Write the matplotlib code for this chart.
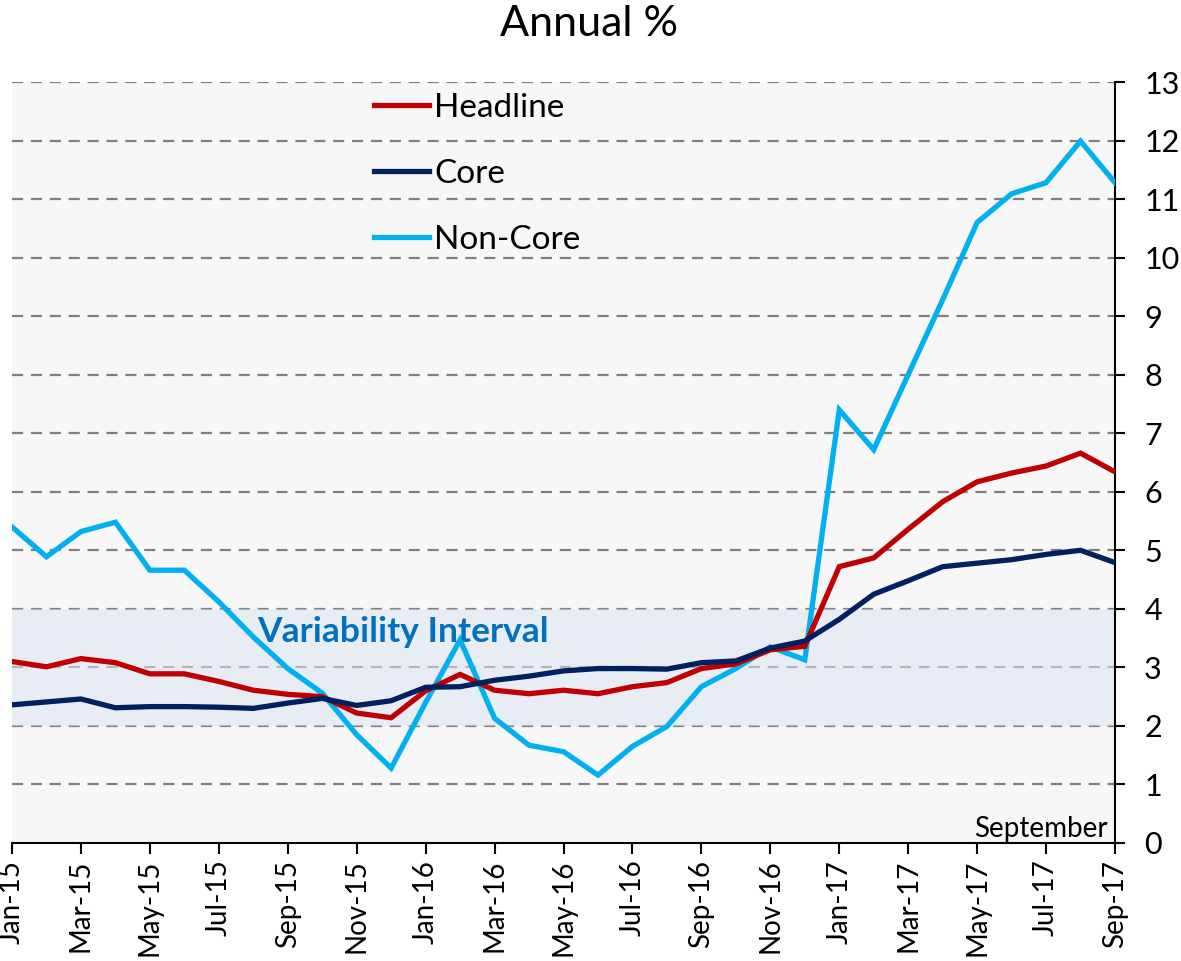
import matplotlib
matplotlib.use("Agg")
import matplotlib.pyplot as plt
import numpy as np

months = ["Jan-15","Feb-15","Mar-15","Apr-15","May-15","Jun-15","Jul-15","Aug-15","Sep-15","Oct-15","Nov-15","Dec-15",
          "Jan-16","Feb-16","Mar-16","Apr-16","May-16","Jun-16","Jul-16","Aug-16","Sep-16","Oct-16","Nov-16","Dec-16",
          "Jan-17","Feb-17","Mar-17","Apr-17","May-17","Jun-17","Jul-17","Aug-17","Sep-17"]

headline = [3.10, 3.01, 3.15, 3.08, 2.89, 2.89, 2.76, 2.61, 2.54, 2.50, 2.22, 2.14,
            2.60, 2.88, 2.61, 2.55, 2.61, 2.55, 2.67, 2.74, 2.98, 3.06, 3.30, 3.36,
            4.72, 4.87, 5.36, 5.83, 6.17, 6.32, 6.44, 6.66, 6.34]
core = [2.36, 2.41, 2.46, 2.31, 2.33, 2.33, 2.32, 2.30, 2.39, 2.47, 2.35, 2.43,
        2.66, 2.67, 2.78, 2.85, 2.94, 2.98, 2.98, 2.97, 3.08, 3.11, 3.33, 3.45,
        3.82, 4.25, 4.48, 4.72, 4.78, 4.84, 4.93, 5.00, 4.79]
noncore = [5.40, 4.89, 5.32, 5.48, 4.66, 4.66, 4.12, 3.52, 2.98, 2.56, 1.85, 1.28,
           2.40, 3.47, 2.13, 1.67, 1.56, 1.16, 1.65, 1.99, 2.67, 2.98, 3.35, 3.13,
           7.40, 6.72, 8.00, 9.28, 10.60, 11.09, 11.28, 11.99, 11.28]

band_low, band_high = 2, 4
yticks = list(range(0, 14))

plt.rcParams['font.family'] = ['Lato', 'DejaVu Sans']

fig = plt.figure(figsize=(11.81, 9.61), dpi=100)
ax = fig.add_axes([12/1181, 1-843/961, (1115-12)/1181, (843-82)/961])
ax.set_facecolor('#F7F7F7')

x = np.arange(len(months))
ax.set_xlim(0, len(months)-1)
ax.set_ylim(0, 13)

for v in yticks[1:]:
    ax.axhline(v, color='#808080', lw=1.6, ls=(0, (5, 3.5)), zorder=1)
ax.axhspan(band_low, band_high, color='#DCE6F2', alpha=0.55, lw=0, zorder=2)

ax.plot(x, noncore, color='#00B0F0', lw=3.8, zorder=3, label='Non-Core', solid_joinstyle='miter')
ax.plot(x, headline, color='#C00000', lw=3.8, zorder=4, label='Headline', solid_joinstyle='miter')
ax.plot(x, core, color='#002060', lw=3.8, zorder=5, label='Core', solid_joinstyle='miter')

ax.text(7.1, 3.6, 'Variability Interval', color='#0070C0', fontsize=25.5, fontweight='bold',
        va='center', ha='left', zorder=6)
ax.text(31.8, 0.02, 'September', fontsize=20, ha='right', va='bottom', zorder=6)

handles, labels = ax.get_legend_handles_labels()
order = [1, 2, 0]
leg = ax.legend([handles[i] for i in order], [labels[i] for i in order],
                loc='upper left', bbox_to_anchor=(0.316, 1.003), frameon=False,
                fontsize=24, handlelength=1.65, handletextpad=0.15, labelspacing=1.08,
                borderaxespad=0)

ax.yaxis.tick_right()
ax.set_yticks(yticks)
ax.tick_params(axis='y', which='both', direction='out', length=7, width=1.5, labelsize=22, pad=14)
ax.set_xticks(x[::2])
ax.set_xticklabels(months[::2], rotation=90, fontsize=20)
ax.tick_params(axis='x', direction='out', length=8, width=1.5, pad=4)

for s in ['left', 'top']:
    ax.spines[s].set_visible(False)
for s in ['right', 'bottom']:
    ax.spines[s].set_linewidth(1.5)
    ax.spines[s].set_color('black')

fig.text(589/1181, 1-24/961, 'Annual %', ha='center', va='center', fontsize=31)

fig.savefig('out.png', dpi=100)
